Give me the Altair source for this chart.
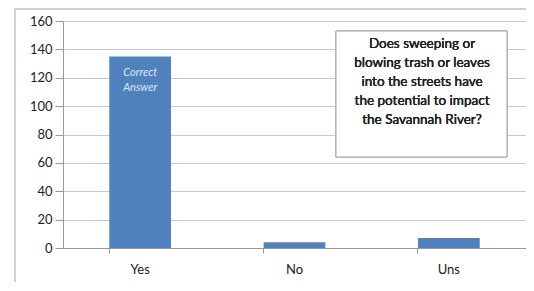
import altair as alt
import pandas as pd

categories = ["Yes", "No", "Uns"]
counts = [135, 4, 7]
question_lines = ["Does sweeping or", "blowing trash or leaves", "into the streets  have",
                  "the potential to impact", "the Savannah River?"]
bar_note = ["Correct", "Answer"]

df = pd.DataFrame({"answer": categories, "count": counts})
FONT = "Lato"

x_enc = alt.X("answer:N", sort=categories, title=None,
              scale=alt.Scale(paddingInner=0.6, paddingOuter=0.3),
              axis=alt.Axis(bandPosition=0, labelAngle=0, labelFontSize=13,
                            labelColor="#222", labelPadding=10, tickSize=5, tickColor="#999",
                            domainColor="#999", labelFont=FONT, labelFontWeight=400))
y_enc = alt.Y("count:Q", title=None,
              scale=alt.Scale(domain=[0, 160]),
              axis=alt.Axis(values=list(range(0, 161, 20)), tickSize=8, tickColor="#999",
                            domainColor="#999", gridColor="#c8c8c8", labelFontSize=13,
                            labelColor="#222", labelPadding=3, labelFont=FONT))

frame = alt.Chart(df).mark_rect(fill="white", fillOpacity=0, stroke="#cfcfcf", strokeWidth=1.5).encode(
    x=alt.value(-48), x2=alt.value(520), y=alt.value(-12), y2=alt.value(300))

bars = alt.Chart(df).mark_bar(color="#4f81bd").encode(x=x_enc, y=y_enc)

note = alt.Chart(df[df.answer == "Yes"]).mark_text(
    color="#dfe8f5", fontStyle="italic", fontSize=11, font=FONT, fontWeight=400,
    lineHeight=15, baseline="top"
).encode(x=alt.X("answer:N", sort=categories), y=alt.value(46), text=alt.value(bar_note))

box = alt.Chart(df).mark_rect(fill="white", stroke="#aaaaaa", strokeWidth=1).encode(
    x=alt.value(273), x2=alt.value(444), y=alt.value(10), y2=alt.value(136))

qtext = alt.Chart(df).mark_text(
    fontSize=13.5, font=FONT, fontWeight=400, color="#222", lineHeight=19,
    align="center", baseline="top"
).encode(x=alt.value(359), y=alt.value(16), text=alt.value(question_lines))

chart = alt.layer(frame, bars, note, box, qtext).properties(
    width=463, height=227,
    autosize=alt.AutoSizeParams(type="none"),
    padding={"left": 55, "top": 13, "right": 0, "bottom": 34},
    background="white"
).configure_view(stroke=None)

chart.save("out.html", embed_options={"renderer": "svg", "actions": False})
